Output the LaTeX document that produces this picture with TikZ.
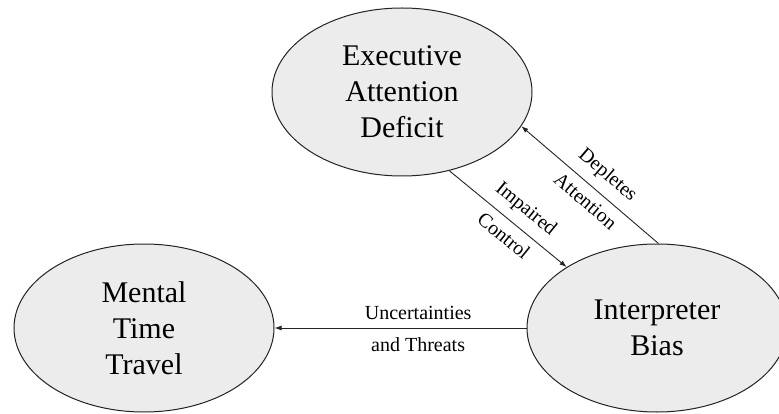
\documentclass[tikz,border=0pt]{standalone}
\usepackage{fontspec}
\setmainfont{Liberation Serif}
\usetikzlibrary{arrows.meta,shapes.geometric}
\definecolor{factorfill}{RGB}{236,236,236}
\definecolor{factorline}{RGB}{35,35,35}
\tikzset{factor/.style={ellipse,draw=factorline,line width=1pt,fill=factorfill,
 minimum width=260pt,minimum height=168pt,inner sep=0pt,align=center,
 font=\fontsize{30}{36}\selectfont},
 effect/.style={-{Latex[length=7pt,width=5pt]},line width=.9pt,draw=factorline},
 edgetext/.style={font=\fontsize{20}{22}\selectfont,inner sep=2pt}}

\begin{document}
\begin{tikzpicture}[x=1pt,y=-1pt]
\useasboundingbox (0,0) rectangle (779,414);
\node[factor] (exec) at (402,92) {Executive\\Attention\\Deficit};
\node[factor] (mtt) at (144,328) {Mental\\Time\\Travel};
\node[factor] (interp) at (657,328) {Interpreter\\Bias};
\draw[effect] (exec.-59)--(interp.146)
 node[edgetext,pos=.55,sloped,above=7pt] {Impaired}
 node[edgetext,pos=.55,sloped,below=6pt] {Control};
\draw[effect] (interp.89)--(exec.-16)
 node[edgetext,pos=.46,sloped,above=7pt] {Depletes}
 node[edgetext,pos=.46,sloped,below=6pt] {Attention};
\draw[effect] (interp.180)--(mtt.0)
 node[edgetext,pos=.43,above=6pt] {Uncertainties}
 node[edgetext,pos=.43,below=7pt] {and Threats};
\end{tikzpicture}
\end{document}
